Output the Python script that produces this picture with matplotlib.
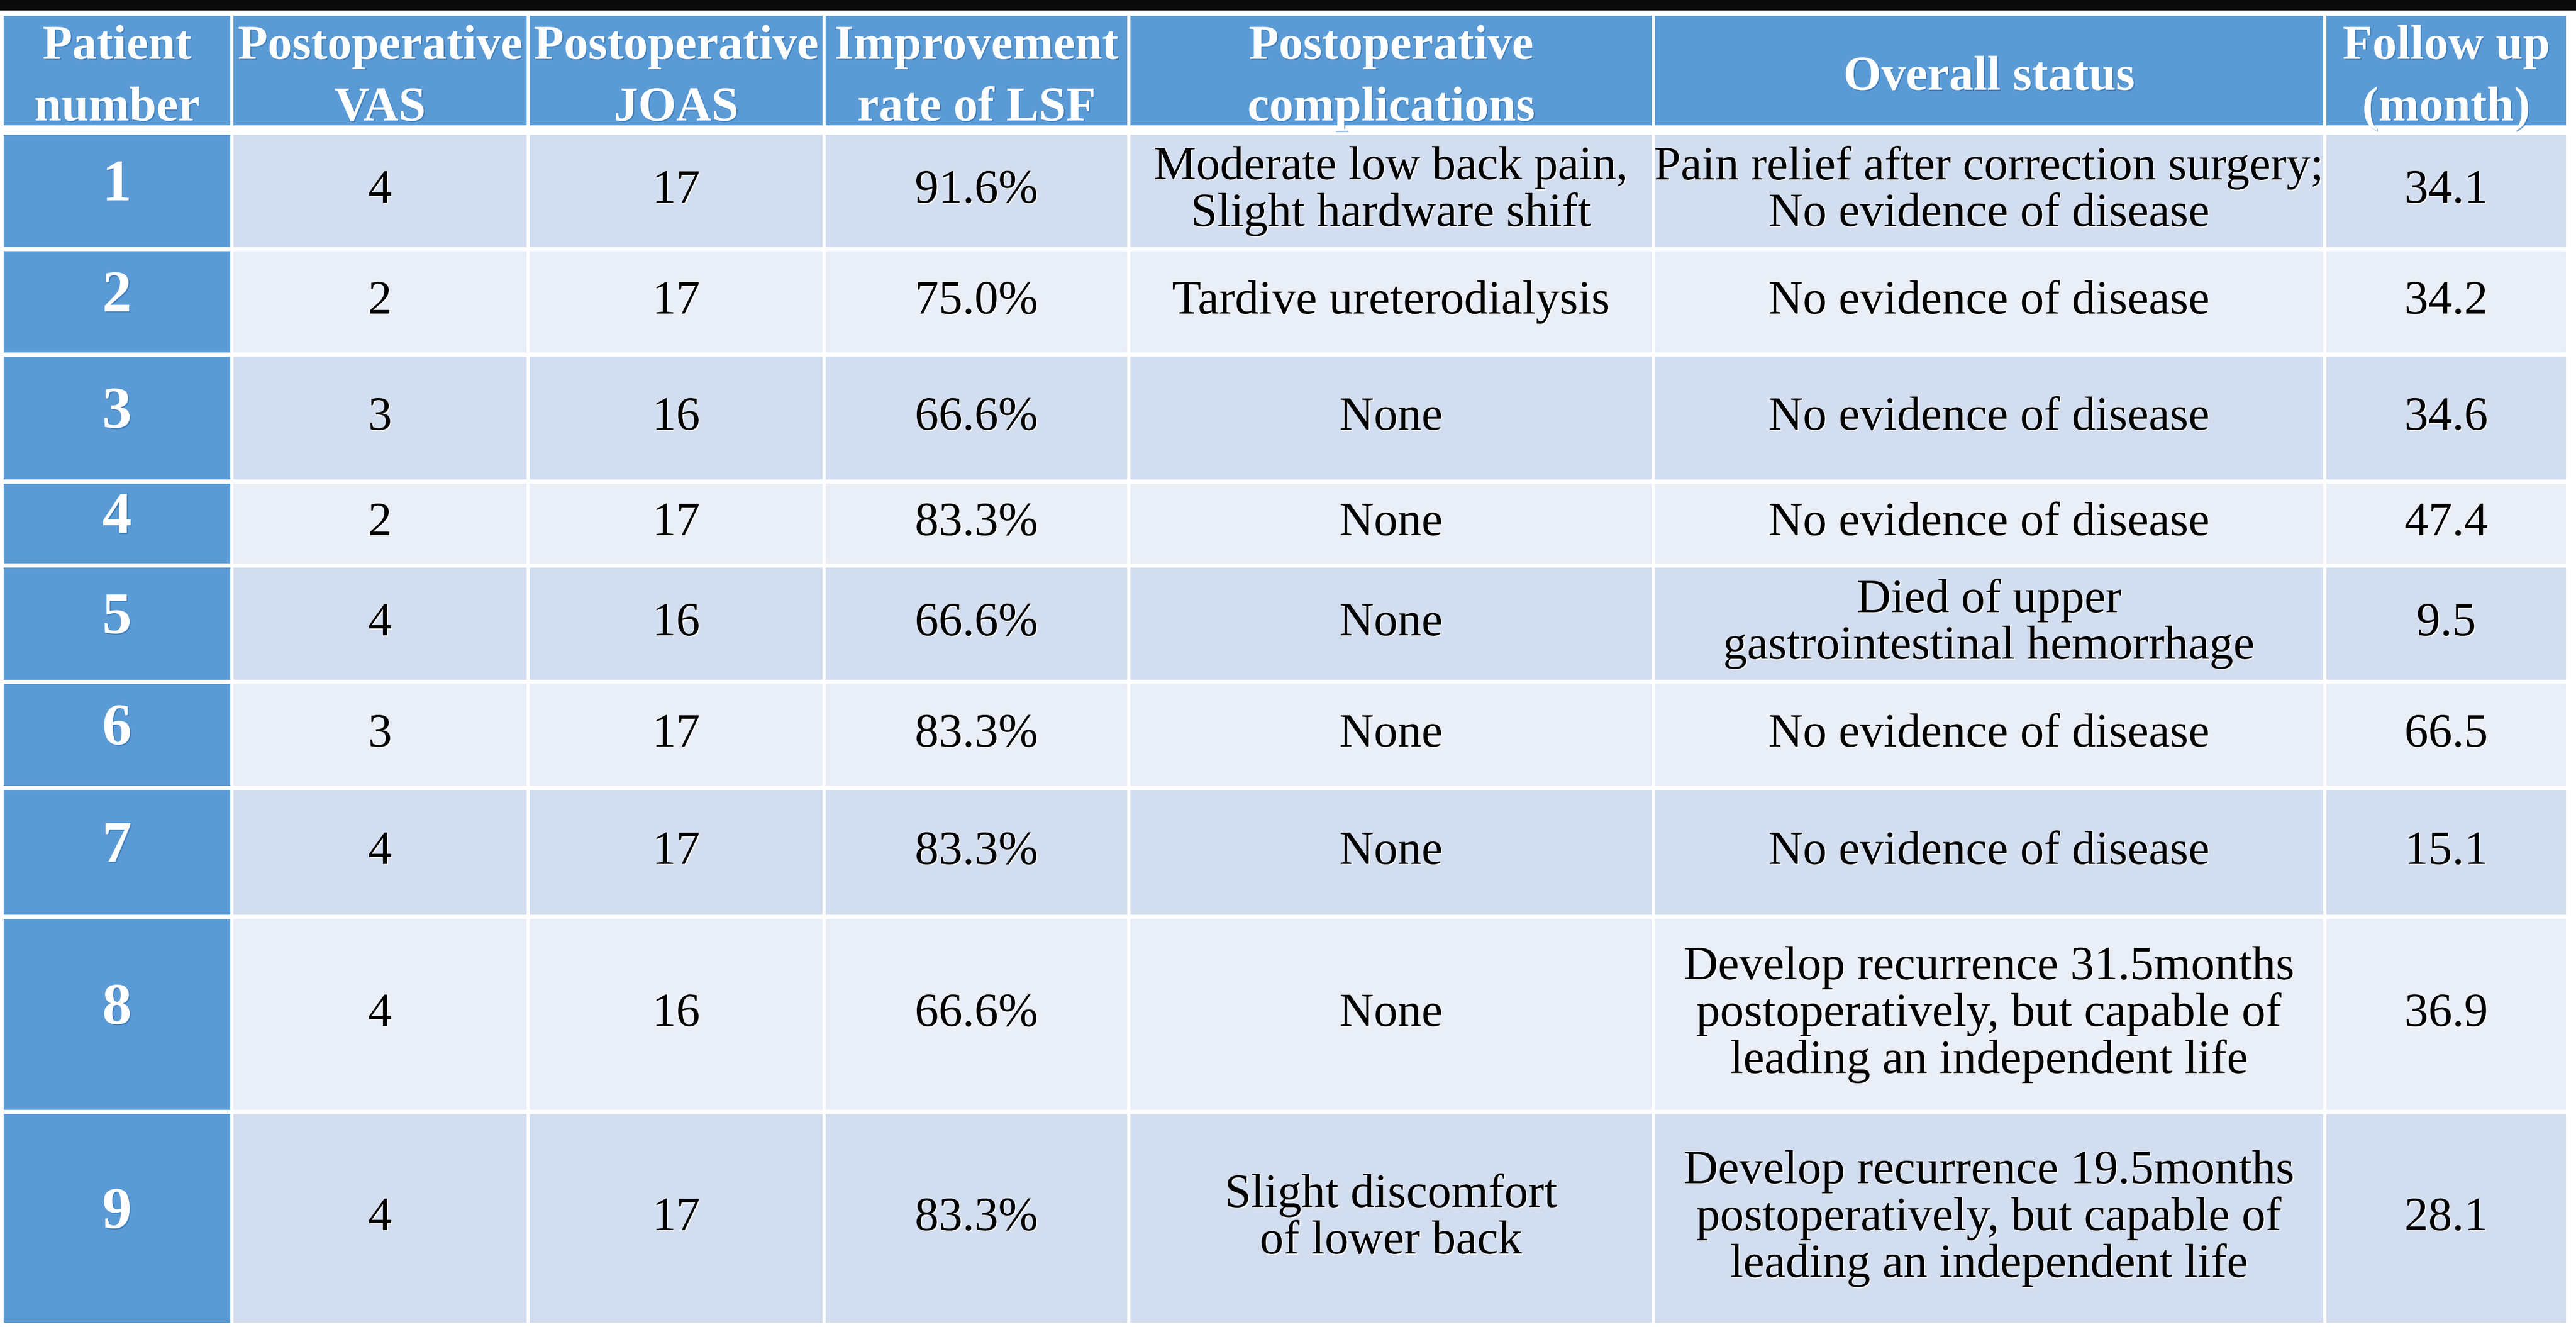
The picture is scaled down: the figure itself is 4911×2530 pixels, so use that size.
import matplotlib
matplotlib.use("Agg")
import matplotlib.pyplot as plt
from matplotlib.patches import Rectangle
import matplotlib.patheffects as pe

# ---------------- data ----------------
headers = ["Patient\nnumber", "Postoperative\nVAS", "Postoperative\nJOAS",
           "Improvement\nrate of LSF", "Postoperative\ncomplications",
           "Overall status", "Follow up\n(month)"]
patients = ["1", "2", "3", "4", "5", "6", "7", "8", "9"]
vas = [4, 2, 3, 2, 4, 3, 4, 4, 4]
joas = [17, 17, 16, 17, 16, 17, 17, 16, 17]
lsf_rate = ["91.6%", "75.0%", "66.6%", "83.3%", "66.6%", "83.3%", "83.3%", "66.6%", "83.3%"]
complications = ["Moderate low back pain,\nSlight hardware shift",
                 "Tardive ureterodialysis", "None", "None", "None", "None", "None",
                 "None", "Slight discomfort\nof lower back"]
overall_status = ["Pain relief after correction surgery;\nNo evidence of disease",
                  "No evidence of disease", "No evidence of disease",
                  "No evidence of disease",
                  "Died of upper\ngastrointestinal hemorrhage",
                  "No evidence of disease", "No evidence of disease",
                  "Develop recurrence 31.5months\npostoperatively, but capable of\nleading an independent life",
                  "Develop recurrence 19.5months\npostoperatively, but capable of\nleading an independent life"]
follow_up = [34.1, 34.2, 34.6, 47.4, 9.5, 66.5, 15.1, 36.9, 28.1]

# ---------------- layout (pixels) ----------------
W, H = 4911, 2530
COL_EDGES = [7, 442, 1007, 1571, 2152, 3152, 4432, 4892]
HEADER_TOP, HEADER_BOT = 30, 239
ROW_EDGES = [257, 475, 676, 918, 1078, 1300, 1502, 1748, 2120, 2522]
VGAP = 3   # half of vertical white gap
HGAP = 4   # half of horizontal white gap

BLUE = "#5B9BD5"
ODD = "#D2DEEF"
EVEN = "#E9EEF7"

FONT = "Liberation Serif"
BODY_FS = 65.5
HEAD_FS = 67
NUM_FS = 81

fig = plt.figure(figsize=(W / 100, H / 100), dpi=100)
fig.patch.set_facecolor("white")
ax = fig.add_axes([0, 0, 1, 1])
ax.set_xlim(0, W)
ax.set_ylim(H, 0)
ax.axis("off")

# black band at top
ax.add_patch(Rectangle((0, 0), W, 20, facecolor="#0a0a0a", edgecolor="none"))

ncol = len(COL_EDGES) - 1


def col_span(j):
    x0 = COL_EDGES[j] + (VGAP if j > 0 else 0)
    x1 = COL_EDGES[j + 1] - (VGAP if j < ncol - 1 else 0)
    return x0, x1


body_fx = [pe.SimplePatchShadow(offset=(1.5, -1.5), shadow_rgbFace="white", alpha=0.9), pe.Normal()]
head_fx = [pe.SimplePatchShadow(offset=(1.5, -1.5), shadow_rgbFace="#2E6DB0", alpha=0.6), pe.Normal()]

# header
for j, h in enumerate(headers):
    x0, x1 = col_span(j)
    ax.add_patch(Rectangle((x0, HEADER_TOP), x1 - x0, HEADER_BOT - HEADER_TOP,
                           facecolor=BLUE, edgecolor="none"))
    ax.text((x0 + x1) / 2, (HEADER_TOP + HEADER_BOT) / 2 + 14, h, ha="center", va="center",
            fontsize=HEAD_FS, fontweight="bold", color="white", family=FONT,
            linespacing=1.5, path_effects=head_fx)

# body rows
nrow = len(patients)
for i in range(nrow):
    y0 = ROW_EDGES[i] + (HGAP if i > 0 else 0)
    y1 = ROW_EDGES[i + 1] - (HGAP if i < nrow - 1 else 0)
    yc = (y0 + y1) / 2
    fill = ODD if i % 2 == 0 else EVEN
    values = [patients[i], str(vas[i]), str(joas[i]), lsf_rate[i],
              complications[i], overall_status[i], f"{follow_up[i]:.1f}"]
    for j, v in enumerate(values):
        x0, x1 = col_span(j)
        ax.add_patch(Rectangle((x0, y0), x1 - x0, y1 - y0,
                               facecolor=BLUE if j == 0 else fill, edgecolor="none"))
        if j == 0:
            ax.text((x0 + x1) / 2, yc - 9, v, ha="center", va="center",
                    fontsize=NUM_FS, fontweight="bold", color="white", family=FONT,
                    path_effects=head_fx)
        else:
            ax.text((x0 + x1) / 2, yc, v, ha="center", va="center",
                    fontsize=BODY_FS, color="black", family=FONT,
                    linespacing=1.1, path_effects=body_fx)

fig.savefig("out.png", dpi=100, facecolor="white")
